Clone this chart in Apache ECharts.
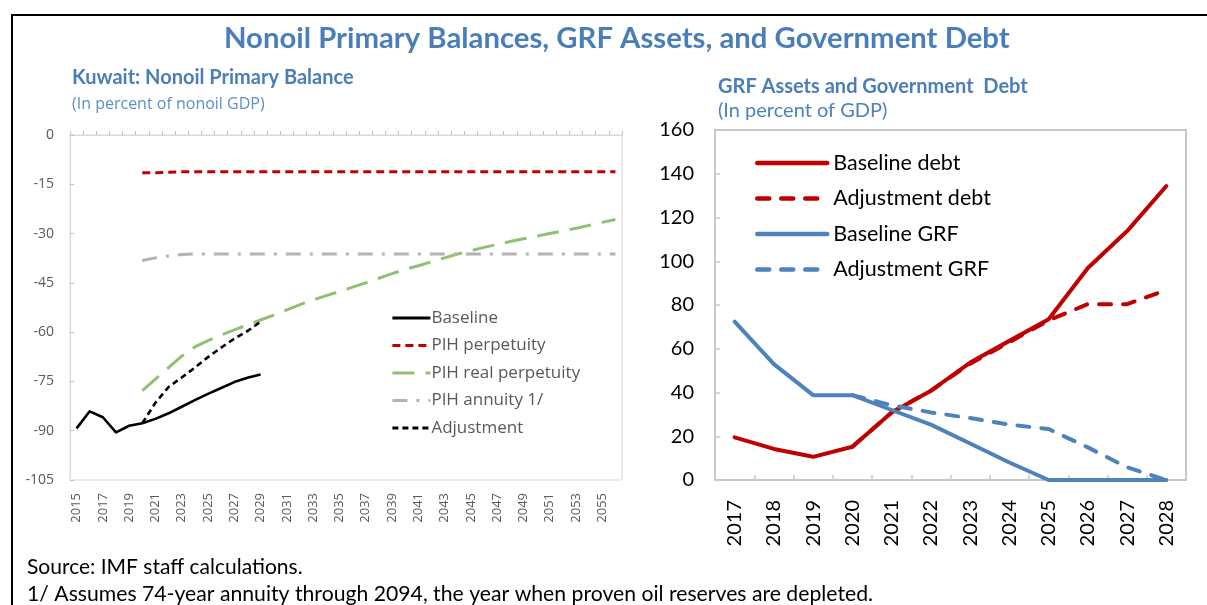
<!DOCTYPE html>
<html><head><meta charset="utf-8">
<script src="https://cdn.jsdelivr.net/npm/echarts@6/dist/echarts.min.js"></script>
<style>html,body{margin:0;padding:0;background:#fff;}#c{width:1207px;height:605px;}</style>
</head><body><div id="c"></div>
<script>
// ---- Left chart data (In percent of nonoil GDP) ----
const leftYears = [];
for (let y = 2015; y <= 2056; y++) leftYears.push(String(y));
const baseline = [-89.3,-84.1,-85.9,-90.5,-88.5,-87.7,-86.4,-84.7,-82.7,-80.7,-78.8,-77.0,-75.2,-73.9,-72.9];
const adjustment = [null,null,null,null,null,-87.7,-81.5,-76.7,-73.8,-70.8,-67.6,-64.7,-62.0,-59.7,-56.8];
const pihPerpetuity = [null,null,null,null,null,-11.5,-11.5,-11.3,-11.2,-11.2,-11.2,-11.2,-11.2,-11.2,-11.2,-11.2,-11.2,-11.2,-11.2,-11.2,-11.2,-11.2,-11.2,-11.2,-11.2,-11.2,-11.2,-11.2,-11.2,-11.2,-11.2,-11.2,-11.2,-11.2,-11.2,-11.2,-11.2,-11.2,-11.2,-11.2,-11.2,-11.2];
const pihRealPerpetuity = [null,null,null,null,null,-77.8,-74.3,-70.8,-67.3,-64.5,-62.6,-60.9,-59.3,-57.8,-56.3,-54.8,-53.2,-51.6,-50.2,-48.9,-47.6,-46.3,-45.0,-43.6,-42.2,-40.9,-39.8,-38.6,-37.4,-36.2,-35.2,-34.2,-33.3,-32.4,-31.6,-30.8,-30.0,-29.2,-28.4,-27.5,-26.6,-25.7];
const pihAnnuity = [null,null,null,null,null,-38.2,-37.4,-36.8,-36.4,-36.2,-36.2,-36.2,-36.2,-36.2,-36.2,-36.2,-36.2,-36.2,-36.2,-36.2,-36.2,-36.2,-36.2,-36.2,-36.2,-36.2,-36.2,-36.2,-36.2,-36.2,-36.2,-36.2,-36.2,-36.2,-36.2,-36.2,-36.2,-36.2,-36.2,-36.2,-36.2,-36.2];

// ---- Right chart data (In percent of GDP) ----
const rightYears = ['2017','2018','2019','2020','2021','2022','2023','2024','2025','2026','2027','2028'];
const baselineDebt = [19.5,14.2,10.6,15.2,30.9,40.8,53.7,63.6,73.5,96.9,113.8,134.4];
const adjustmentDebt = [null,null,null,15.2,30.9,40.8,53.2,63.0,73.0,80.4,80.4,86.8];
const baselineGRF = [72.4,53.0,38.8,38.8,32.0,25.3,16.7,8.0,0,0,0,0];
const adjustmentGRF = [null,null,null,38.8,34.2,30.9,28.3,25.3,23.3,14.9,5.8,0];

const chart = echarts.init(document.getElementById('c'), null, {renderer: 'canvas'});
const calibri = 'Lato, "Open Sans", sans-serif';
const segoe = '"Open Sans", "Noto Sans", sans-serif';
const titleBlue = '#4A7EBB';

const option = {
  backgroundColor: '#fff',
  animation: false,
  title: [
    {text: 'Nonoil Primary Balances, GRF Assets, and Government Debt', left: 224, top: 24, padding: 0,
     textStyle: {fontFamily: calibri, fontSize: 29.3, fontWeight: 'bold', color: titleBlue}},
    {text: 'Kuwait: Nonoil Primary Balance', left: 72, top: 68, padding: 0,
     textStyle: {fontFamily: calibri, fontSize: 20, fontWeight: 'bold', color: titleBlue}},
    {text: '(In percent of nonoil GDP)', left: 72, top: 96, padding: 0,
     textStyle: {fontFamily: segoe, fontSize: 16, fontWeight: 'normal', color: '#5B8FC9'}},
    {text: 'GRF Assets and Government  Debt', left: 718, top: 77, padding: 0,
     textStyle: {fontFamily: calibri, fontSize: 20, fontWeight: 'bold', color: titleBlue}},
    {text: '(In percent of GDP)', left: 718, top: 101, padding: 0,
     textStyle: {fontFamily: calibri, fontSize: 20, fontWeight: 'normal', color: '#4F81BD'}},
    {text: 'Source: IMF staff calculations.', left: 27, top: 557, padding: 0,
     textStyle: {fontFamily: calibri, fontSize: 21, fontWeight: 'normal', color: '#000'}},
    {text: '1/ Assumes 74-year annuity through 2094, the year when proven oil reserves are depleted.', left: 27, top: 584, padding: 0,
     textStyle: {fontFamily: calibri, fontSize: 21.2, fontWeight: 'normal', color: '#000'}}
  ],
  graphic: [
    {type: 'rect', shape: {x: 12, y: 15, width: 1250, height: 650}, style: {fill: null, stroke: '#000', lineWidth: 2}, silent: true}
  ],
  legend: [
    {orient: 'vertical', left: 386, top: 304, itemWidth: 38, itemHeight: 14, itemGap: 9.5,
     itemStyle: {opacity: 0}, lineStyle: {width: 2.8},
     data: ['Baseline','PIH perpetuity','PIH real perpetuity','PIH annuity 1/','Adjustment'],
     textStyle: {fontFamily: segoe, fontSize: 17, lineHeight: 18, color: '#595959', padding: [0,0,0,-4]}},
    {orient: 'vertical', left: 750, top: 147, itemWidth: 70, itemHeight: 20, itemGap: 13.5,
     itemStyle: {opacity: 0}, lineStyle: {width: 4.5},
     data: ['Baseline debt','Adjustment debt','Baseline GRF','Adjustment GRF'],
     textStyle: {fontFamily: calibri, fontSize: 21.5, lineHeight: 22, color: '#000', padding: [0,0,0,1]}}
  ],
  grid: [
    {left: 70, top: 135, width: 552, height: 345, show: true, borderColor: '#d9d9d9', borderWidth: 1, containLabel: false},
    {left: 715, top: 130, width: 471, height: 350, show: true, borderColor: '#c8c8c8', borderWidth: 2, containLabel: false}
  ],
  xAxis: [
    {type: 'category', gridIndex: 0, data: leftYears, position: 'bottom', boundaryGap: true,
     axisLine: {show: true, lineStyle: {color: '#d9d9d9', width: 1}},
     axisTick: {show: false},
     axisLabel: {interval: 1, rotate: 90, margin: 13, fontFamily: segoe, fontSize: 13, color: '#595959'}},
    {type: 'category', gridIndex: 0, data: leftYears, position: 'top', boundaryGap: true,
     axisLine: {show: true, lineStyle: {color: '#d9d9d9', width: 1}},
     axisTick: {show: true, alignWithLabel: false, interval: 0, length: 4, inside: false, lineStyle: {color: '#bfbfbf'}},
     axisLabel: {show: false}},
    {type: 'category', gridIndex: 1, data: rightYears, position: 'bottom', boundaryGap: true,
     axisLine: {show: true, lineStyle: {color: '#c8c8c8', width: 2}},
     axisTick: {show: true, inside: true, length: 5, interval: 0, lineStyle: {color: '#c8c8c8', width: 1.5}},
     axisLabel: {interval: 0, rotate: 90, margin: 20, fontFamily: calibri, fontSize: 20, color: '#000'}}
  ],
  yAxis: [
    {type: 'value', gridIndex: 0, min: -105, max: 0, interval: 15,
     axisLine: {show: true, lineStyle: {color: '#d9d9d9'}},
     axisTick: {show: true, inside: true, length: 4, lineStyle: {color: '#bfbfbf'}},
     splitLine: {show: false},
     axisLabel: {margin: 16, fontFamily: segoe, fontSize: 14, color: '#595959'}},
    {type: 'value', gridIndex: 1, min: 0, max: 160, interval: 20,
     axisLine: {show: true, lineStyle: {color: '#c8c8c8', width: 2}},
     axisTick: {show: true, inside: true, length: 5, lineStyle: {color: '#c8c8c8', width: 1.5}},
     splitLine: {show: false},
     axisLabel: {margin: 21, fontFamily: calibri, fontSize: 20, color: '#000'}}
  ],
  series: [
    {name: 'Baseline', type: 'line', xAxisIndex: 0, yAxisIndex: 0, data: baseline, symbol: 'none',
     lineStyle: {color: '#000', width: 2.6, join: 'round'}, itemStyle: {color: '#000'}},
    {name: 'PIH perpetuity', type: 'line', xAxisIndex: 0, yAxisIndex: 0, data: pihPerpetuity, symbol: 'none',
     lineStyle: {color: '#C00000', width: 3, type: [8, 5]}, itemStyle: {color: '#C00000'}},
    {name: 'PIH real perpetuity', type: 'line', xAxisIndex: 0, yAxisIndex: 0, data: pihRealPerpetuity, symbol: 'none',
     lineStyle: {color: '#92C073', width: 3, type: [22, 11]}, itemStyle: {color: '#92C073'}},
    {name: 'PIH annuity 1/', type: 'line', xAxisIndex: 0, yAxisIndex: 0, data: pihAnnuity, symbol: 'none',
     lineStyle: {color: '#B3B3B3', width: 3, type: [15, 9, 3, 9]}, itemStyle: {color: '#B3B3B3'}},
    {name: 'Adjustment', type: 'line', xAxisIndex: 0, yAxisIndex: 0, data: adjustment, symbol: 'none',
     lineStyle: {color: '#000', width: 2.6, type: [6, 4]}, itemStyle: {color: '#000'}},

    {name: 'Baseline debt', type: 'line', xAxisIndex: 2, yAxisIndex: 1, data: baselineDebt, symbol: 'none',
     lineStyle: {color: '#C00000', width: 4, join: 'round', cap: 'round'}, itemStyle: {color: '#C00000'}},
    {name: 'Adjustment debt', type: 'line', xAxisIndex: 2, yAxisIndex: 1, data: adjustmentDebt, symbol: 'none',
     lineStyle: {color: '#C00000', width: 4, type: [12, 12], cap: 'round'}, itemStyle: {color: '#C00000'}},
    {name: 'Baseline GRF', type: 'line', xAxisIndex: 2, yAxisIndex: 1, data: baselineGRF, symbol: 'none',
     lineStyle: {color: '#4F81BD', width: 4, join: 'round', cap: 'round'}, itemStyle: {color: '#4F81BD'}},
    {name: 'Adjustment GRF', type: 'line', xAxisIndex: 2, yAxisIndex: 1, data: adjustmentGRF, symbol: 'none',
     lineStyle: {color: '#4F81BD', width: 4, type: [12, 12], cap: 'round'}, itemStyle: {color: '#4F81BD'}}
  ]
};
chart.setOption(option);
</script>
</body></html>
